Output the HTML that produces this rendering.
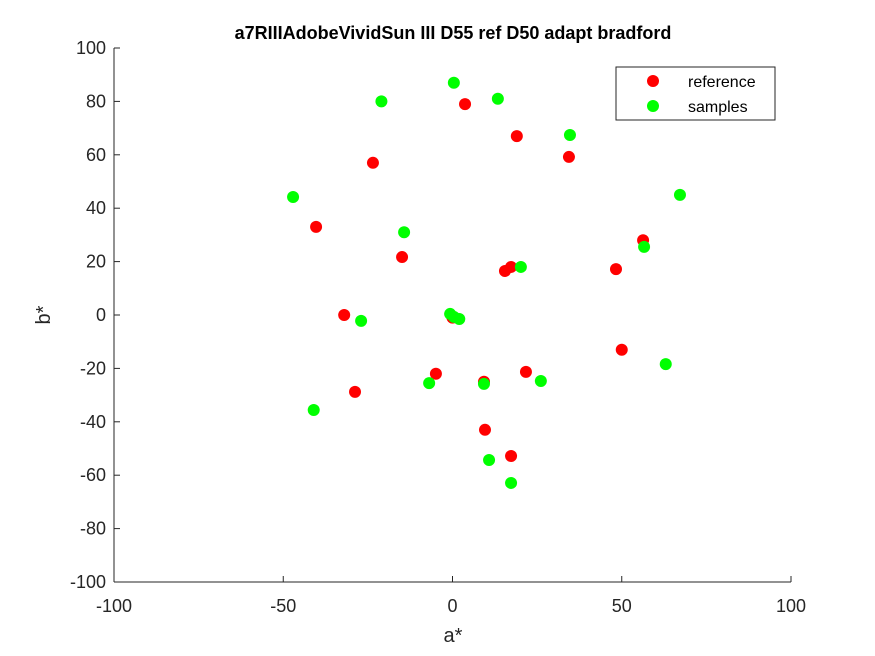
<!DOCTYPE html>
<html><head><meta charset="utf-8"><style>
body{margin:0;background:#fff;}
svg{display:block;font-family:"Liberation Sans",Arial,sans-serif;}
</style></head><body>
<svg id="chart" width="875" height="656">
<rect width="875" height="656" fill="#fff"/>
<g id="axes"></g>
<g id="pts"></g>
<text x="453" y="39" text-anchor="middle" font-size="18" font-weight="bold" fill="#000">a7RIIIAdobeVividSun III D55 ref D50 adapt bradford</text>
<text x="453" y="642" text-anchor="middle" font-size="20" fill="#262626">a*</text>
<text x="50" y="315" text-anchor="middle" font-size="20" fill="#262626" transform="rotate(-90 50 315)">b*</text>
<g>
<rect x="616" y="67" width="159" height="53" fill="#fff" stroke="#262626" stroke-width="1"/>
<circle cx="653" cy="81" r="6" fill="#f00"/>
<text x="688" y="87" font-size="16" fill="#000">reference</text>
<circle cx="653" cy="106" r="6" fill="#0f0"/>
<text x="688" y="112" font-size="16" fill="#000">samples</text>
</g>
</svg>
<script>
const xTicks=[-100,-50,0,50,100];
const yTicks=[-100,-80,-60,-40,-20,0,20,40,60,80,100];
const refA=[3.7,-23.5,19,34.4,-40.3,-14.9,56.3,48.3,15.5,17.3,-32,0,50,-4.9,21.7,9.3,-28.8,9.6,17.3];
const refB=[79,57,67,59.2,33,21.7,28,17.2,16.5,18,0,-1,-13,-22,-21.3,-25,-28.8,-43,-52.8];
const smpA=[0.4,-21,13.4,34.7,-47.1,67.2,-14.3,56.6,20.2,-0.7,0.4,2,-27,-6.9,9.3,26.1,63,-41,10.8,17.3];
const smpB=[87,80,81,67.4,44.2,45,31,25.5,18,0.4,-0.7,-1.5,-2.2,-25.5,-25.8,-24.7,-18.4,-35.6,-54.3,-62.9];
const X0=114,X1=791,Y0=582,Y1=48;
const sx=v=>X0+(v+100)/200*(X1-X0);
const sy=v=>Y0-(v+100)/200*(Y0-Y1);
const NS="http://www.w3.org/2000/svg";
const ax=document.getElementById('axes');
function mk(t,a,p){const e=document.createElementNS(NS,t);for(const k in a)e.setAttribute(k,a[k]);(p||ax).appendChild(e);return e;}
let l=mk('line',{x1:X0,y1:Y0,x2:X1,y2:Y0,stroke:'#262626'});


l=mk('line',{x1:X0,y1:Y0,x2:X0,y2:Y1,stroke:'#262626'});


xTicks.forEach(v=>{
 mk('line',{x1:sx(v),y1:Y0,x2:sx(v),y2:Y0-6,stroke:'#262626'});
 const t=mk('text',{x:sx(v),y:Y0+30,'text-anchor':'middle','font-size':18,fill:'#262626'});
 t.textContent=v;
 
 
});
yTicks.forEach(v=>{
 mk('line',{x1:X0,y1:sy(v),x2:X0+6,y2:sy(v),stroke:'#262626'});
 const t=mk('text',{x:X0-8,y:sy(v)+6,'text-anchor':'end','font-size':18,fill:'#262626'});
 t.textContent=v;
 
 
});
const pg=document.getElementById('pts');
refA.forEach((a,i)=>{
 const c=mk('circle',{cx:sx(a),cy:sy(refB[i]),r:6,fill:'#f00'},pg);
 
 
});
smpA.forEach((a,i)=>{
 const c=mk('circle',{cx:sx(a),cy:sy(smpB[i]),r:6,fill:'#0f0'},pg);
 
 
});
</script>
</body></html>
